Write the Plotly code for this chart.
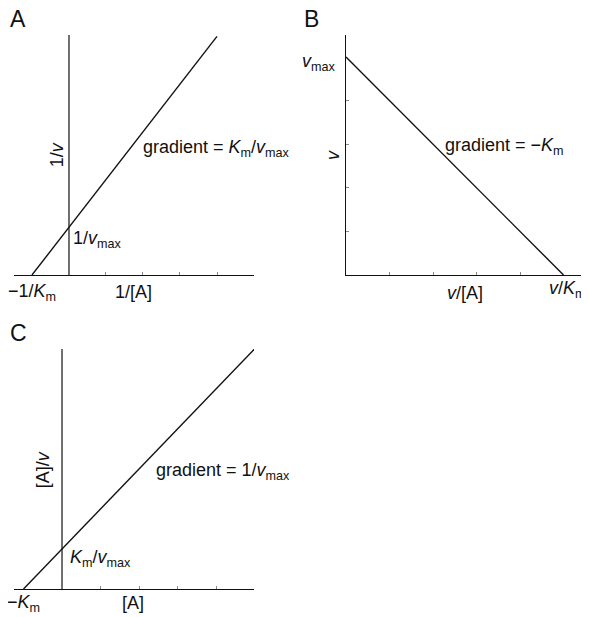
import plotly.graph_objects as go

# ---- dados (unidades arbitrarias) ----
# A: Lineweaver-Burk  1/v contra 1/[A]
a_x = [-1, 4]
a_y = [0, 6.45]
a_xrange = [-1.486, 5.0]
a_yrange = [0, 6.486]
a_ticks = [1, 2, 3, 4]

# B: Eadie-Hofstee  v contra v/[A]
b_x = [0, 5]
b_y = [5, 0]
b_xrange = [0, 5.517]
b_yrange = [0, 5.505]
b_ticks = [1, 2, 3, 4]

# C: Hanes  [A]/v contra [A]
c_x = [-1, 5]
c_y = [0, 6.234]
c_xrange = [-1.247, 4.987]
c_yrange = [0, 6.234]
c_ticks = [1, 2, 3, 4]

# a pagina tem margem de 8px no body
OFF = 8
W, H = 589 - OFF, 617 - OFF
FONT = "Liberation Sans, Arial, Helvetica, sans-serif"
INK = "#111111"

fig = go.Figure()

line = dict(color=INK, width=1.4)
fig.add_trace(go.Scatter(x=a_x, y=a_y, mode="lines", line=line, xaxis="x", yaxis="y"))
fig.add_trace(go.Scatter(x=[0, 0], y=a_yrange, mode="lines", line=dict(color=INK, width=1.2), xaxis="x", yaxis="y"))
fig.add_trace(go.Scatter(x=b_x, y=b_y, mode="lines", line=line, xaxis="x2", yaxis="y2"))
fig.add_trace(go.Scatter(x=c_x, y=c_y, mode="lines", line=line, xaxis="x3", yaxis="y3"))
fig.add_trace(go.Scatter(x=[0, 0], y=c_yrange, mode="lines", line=dict(color=INK, width=1.2), xaxis="x3", yaxis="y3"))

def px(v):
    return (v - OFF) / W

def py(v):
    return 1 - (v - OFF) / H

ax = dict(showgrid=False, zeroline=False, showticklabels=False, ticks="inside",
          ticklen=3, tickcolor="#888888", tickwidth=1, linecolor=INK, linewidth=1.2,
          fixedrange=True)

fig.update_layout(
    width=W, height=H,
    margin=dict(l=0, r=0, t=0, b=0),
    paper_bgcolor="white", plot_bgcolor="white",
    showlegend=False,
    font=dict(family=FONT, size=18, color=INK),
    xaxis=dict(ax, domain=[px(14), px(254)], range=a_xrange, tickvals=a_ticks, showline=True, anchor="y"),
    yaxis=dict(ax, domain=[py(275), py(35)], range=a_yrange, tickvals=[], showline=False, anchor="x"),
    xaxis2=dict(ax, domain=[px(346), px(586)], range=b_xrange, tickvals=b_ticks, showline=True, anchor="y2"),
    yaxis2=dict(ax, domain=[py(275), py(35)], range=b_yrange, tickvals=b_ticks, showline=True, anchor="x2"),
    xaxis3=dict(ax, domain=[px(14), px(254)], range=c_xrange, tickvals=c_ticks, showline=True, anchor="y3"),
    yaxis3=dict(ax, domain=[py(589), py(349)], range=c_yrange, tickvals=[], showline=False, anchor="x3"),
)

ann = []

def note(text, x, y, xref, yref, xanchor="center", yshift=0, xshift=0, angle=0, size=18):
    ann.append(dict(text=text, x=x, y=y, xref=xref, yref=yref, xanchor=xanchor,
                    yanchor="middle", yshift=yshift, xshift=xshift, textangle=angle,
                    showarrow=False, font=dict(family=FONT, size=size, color=INK)))

K = "<i>K</i><sub>m</sub>"
VMAX = "<i>v</i><sub>max</sub>"

# letras dos paineis
note("A", px(8), py(19), "paper", "paper", xanchor="left", size=23)
note("B", px(302), py(19), "paper", "paper", xanchor="left", size=23)
note("C", px(8), py(333), "paper", "paper", xanchor="left", size=23)

# A
note("\u22121/" + K, -1, 0, "x", "y", yshift=-17)
note("1/[A]", 1.73, 0, "x", "y", yshift=-17)
note("1/<i>v</i>", -0.32, 3.24, "x", "y", angle=-90)
note("gradient = " + K + "/" + VMAX, 1.95, 3.43, "x", "y", xanchor="left")
note("1/" + VMAX, 0.06, 0.95, "x", "y", xanchor="left")

# B
note(VMAX, 0, 4.885, "x2", "y2", xanchor="right", xshift=-9)
note("<i>v</i>", 0, 2.75, "x2", "y2", xshift=-13, angle=-90)
note("gradient = \u2212" + K, 2.23, 2.94, "x2", "y2", xanchor="left")
note("<i>v</i>/[A]", 2.74, 0, "x2", "y2", yshift=-18)
note("<i>v</i>/" + K, 5.1, 0, "x2", "y2", yshift=-14)

# C
note("\u2212" + K, -1, 0, "x3", "y3", yshift=-14)
note("[A]", 1.84, 0, "x3", "y3", yshift=-14)
note("[A]/<i>v</i>", -0.49, 3.09, "x3", "y3", angle=-90)
note("gradient = 1/" + VMAX, 2.39, 3.04, "x3", "y3", xanchor="left")
note(K + "/" + VMAX, 0.16, 0.8, "x3", "y3", xanchor="left")

fig.update_layout(annotations=ann)

fig.write_html("out.html")
